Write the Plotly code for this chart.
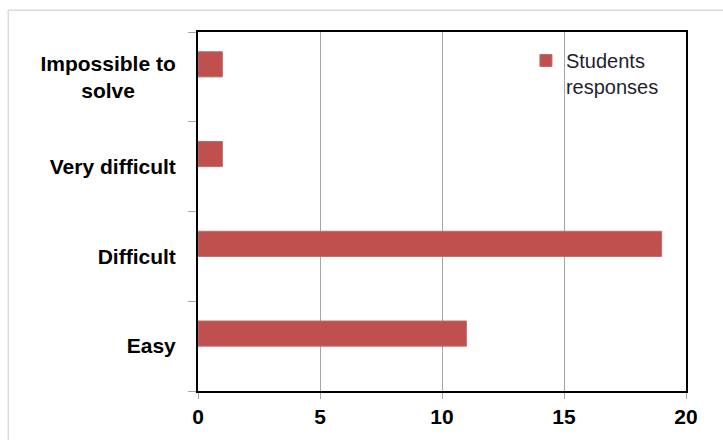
import plotly.graph_objects as go

# Survey results: difficulty rating of the task
categories = ["Easy", "Difficult", "Very difficult", "Impossible to solve"]
category_labels = ["Easy", "Difficult", "Very difficult",
                   "Impossible to<br>solve" + "\u00a0" * 7]
responses = [11, 19, 1, 1]
series_name = "Students<br>responses"
x_ticks = [0, 5, 10, 15, 20]

bar_color = "#C0504D"

fig = go.Figure()
fig.add_trace(go.Bar(
    y=categories,
    x=responses,
    orientation="h",
    name=series_name,
    width=0.28,
    offset=0,
    marker=dict(color=bar_color, line=dict(color="#B5706E", width=1)),
    showlegend=True,
))

fig.update_layout(
    width=723,
    height=440,
    margin=dict(l=198, r=37, t=32, b=47),
    paper_bgcolor="white",
    plot_bgcolor="white",
    font=dict(family="Liberation Sans, Arial, sans-serif", color="black"),
    showlegend=True,
    legend=dict(
        x=0.672, y=0.975, xanchor="left", yanchor="top",
        font=dict(size=20, color="#1F1F2F"),
        bgcolor="rgba(0,0,0,0)",
        itemwidth=30,
        valign="top",
    ),
    xaxis=dict(
        range=[0, 20],
        tickvals=x_ticks,
        ticktext=[str(v) for v in x_ticks],
        showgrid=True,
        gridcolor="#A6A6A6",
        gridwidth=1,
        showline=True,
        linecolor="black",
        linewidth=2,
        mirror=True,
        ticks="outside",
        ticklen=6,
        tickcolor="#A6A6A6",
        tickfont=dict(size=21, weight="bold", color="black"),
        zeroline=False,
    ),
    yaxis=dict(
        type="category",
        categoryorder="array",
        categoryarray=categories,
        tickvals=categories,
        ticktext=category_labels,
        showgrid=False,
        showline=True,
        linecolor="black",
        linewidth=2,
        mirror=True,
        ticks="outside",
        tickson="boundaries",
        ticklen=8,
        tickcolor="#A6A6A6",
        ticklabelstandoff=16,
        tickfont=dict(size=21, weight="bold", color="black"),
    ),
    shapes=[dict(
        type="rect", xref="paper", yref="paper",
        x0=-0.389, x1=1.1, y0=-0.2, y1=1.061,
        line=dict(color="#C8C8C8", width=1),
        fillcolor="rgba(0,0,0,0)",
        layer="below",
    )],
)

fig.write_html("out.html")
